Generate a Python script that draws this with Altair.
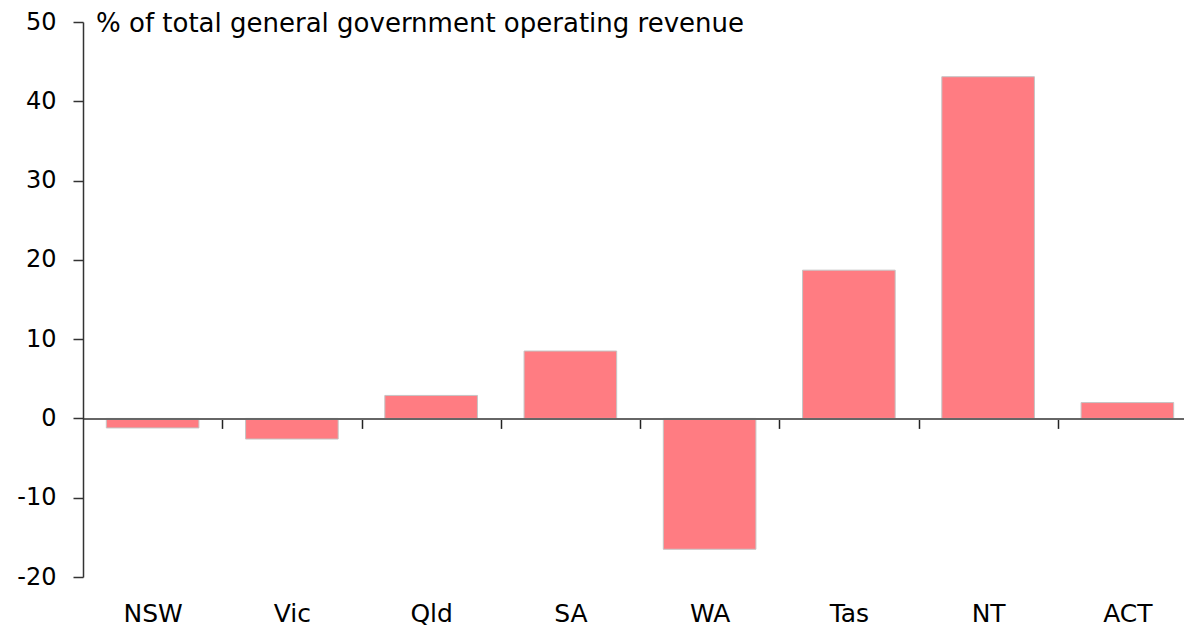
import altair as alt
import pandas as pd

states = ["NSW", "Vic", "Qld", "SA", "WA", "Tas", "NT", "ACT"]
values = [-1.2, -2.6, 2.9, 8.5, -16.5, 18.7, 43.1, 2.0]
y_ticks = [-20, -10, 0, 10, 20, 30, 40, 50]
title_text = "% of total general government operating revenue"

df = pd.DataFrame({"state": states, "value": values})

FONT = "DejaVu Sans"
FS_Y = 24
FS_X = 25
FS_T = 26
RANGE_W = 1114
STEP = RANGE_W / 8

x_enc = alt.X(
    "state:N",
    sort=states,
    scale=alt.Scale(paddingInner=0.335, paddingOuter=0.1675, range=[0, RANGE_W]),
    axis=alt.Axis(
        title=None,
        labelAngle=0,
        offset=-158.6,
        domainColor="#666666",
        domainWidth=2,
        tickOffset=STEP / 2,
        labelOffset=-STEP / 2,
        tickSize=10,
        tickColor="#222222",
        tickWidth=1.5,
        labelPadding=173,
        labelFont=FONT,
        labelFontSize=FS_X,
        labelColor="#000000",
        zindex=1,
    ),
)

y_enc = alt.Y(
    "value:Q",
    scale=alt.Scale(domain=[-20, 50], nice=False, zero=False),
    axis=alt.Axis(
        title=None,
        values=y_ticks,
        labelExpr="'' + datum.value",
        domainColor="#333333",
        domainWidth=1.5,
        tickColor="#333333",
        tickWidth=1.5,
        tickSize=10,
        labelPadding=17,
        labelFont=FONT,
        labelFontSize=FS_Y,
        labelColor="#000000",
        grid=False,
        zindex=1,
    ),
)

bars = alt.Chart(df).mark_bar(
    color="#FF7C82", stroke="#C4C4C4", strokeWidth=1
).encode(x=x_enc, y=y_enc)

title = alt.Chart(pd.DataFrame({"t": [title_text]})).mark_text(
    align="left", baseline="middle", font=FONT, fontSize=FS_T, color="#000000"
).encode(text="t:N", x=alt.value(13), y=alt.value(2))

chart = (
    alt.layer(bars, title)
    .properties(
        width=1101,
        height=555,
        autosize=alt.AutoSizeParams(type="none"),
        padding={"left": 75, "top": 14, "right": 0, "bottom": 60},
    )
    .configure_view(stroke=None)
)

chart.save("out.html", embed_options={"renderer": "svg", "actions": False})
